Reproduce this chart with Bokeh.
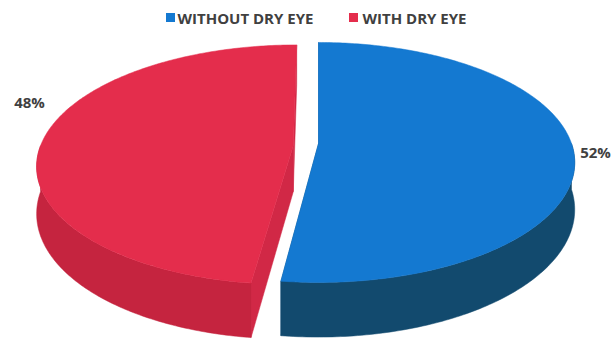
import numpy as np
from bokeh.plotting import figure
from bokeh.models import Range1d
from bokeh.core.properties import value
from bokeh.embed import file_html
from bokeh.resources import INLINE

# ---- data ----
categories = ["WITHOUT DRY EYE", "WITH DRY EYE"]
values = [52, 48]
pct_labels = ["52%", "48%"]
top_colors = ["#1479D1", "#E42D4C"]
side_colors = ["#124A6E", "#C5243F"]
cut_colors = ["#11527D", "#D12846"]
explode = [0.0, 0.10]

# ---- 3D pie geometry (screen pixels, y downward) ----
CX, CY = 318.0, 143.0   # projected pie centre on top face
RX, RY = 253.0, 117.0   # radii
K = 0.158               # perspective strength
D0 = 46.0               # depth of the pie
SLICE_DY = [0.0, 3.0]   # small vertical nudge of exploded slice


def project(u, v, depth=0.0):
    s = 1.0 / (1.0 + K * v)
    return CX + RX * u * s, CY - RY * v * s + depth * D0 * s


p = figure(width=612, height=340, output_backend="svg", toolbar_location=None,
           x_range=Range1d(0, 612), y_range=Range1d(340, 0),
           min_border=0, min_border_left=0, min_border_right=0,
           min_border_top=0, min_border_bottom=0)
p.axis.visible = False
p.grid.visible = False
p.outline_line_color = None
p.background_fill_color = "white"
p.border_fill_color = "white"

total = float(sum(values))
starts, ends = [], []
acc = 0.0
for v in values:
    starts.append(acc / total * 360.0)
    acc += v
    ends.append(acc / total * 360.0)

cut_xs, cut_ys, cut_c = [], [], []
side_xs, side_ys, side_c = [], [], []
top_xs, top_ys, top_c = [], [], []

for i in range(len(values)):
    t0, t1 = starts[i], ends[i]
    mid = np.radians((t0 + t1) / 2.0)
    ou, ov = explode[i] * np.sin(mid), explode[i] * np.cos(mid)
    dy = SLICE_DY[i]

    # radial cut faces
    for t in (t0, t1):
        tr = np.radians(t)
        ru, rv = ou + np.sin(tr), ov + np.cos(tr)
        pts = [project(ou, ov, 0), project(ru, rv, 0), project(ru, rv, 1), project(ou, ov, 1)]
        cut_xs.append([q[0] for q in pts]); cut_ys.append([q[1] + dy for q in pts]); cut_c.append(cut_colors[i])

    # outer side (front visible part)
    a0, a1 = max(t0, 90.0), min(t1, 270.0)
    if a1 > a0:
        th = np.radians(np.linspace(a0, a1, 120))
        u = ou + np.sin(th); v = ov + np.cos(th)
        xt, yt = project(u, v, 0)
        xb, yb = project(u, v, 1)
        side_xs.append(list(xt) + list(xb[::-1]))
        side_ys.append(list(yt + dy) + list(yb[::-1] + dy))
        side_c.append(side_colors[i])

    # top face
    th = np.radians(np.linspace(t0, t1, 240))
    u = ou + np.sin(th); v = ov + np.cos(th)
    xt, yt = project(u, v, 0)
    cx0, cy0 = project(ou, ov, 0)
    top_xs.append([cx0] + list(xt)); top_ys.append([cy0 + dy] + list(yt + dy)); top_c.append(top_colors[i])

p.patches(cut_xs, cut_ys, fill_color=cut_c, line_color=cut_c, line_width=0.5)
p.patches(side_xs, side_ys, fill_color=side_c, line_color=side_c, line_width=0.5)
p.patches(top_xs, top_ys, fill_color=top_c, line_color=top_c, line_width=0.5)

# percentage labels
label_pos = [(595, 151), (29, 101)]
for i, lab in enumerate(pct_labels):
    p.text(x=[label_pos[i][0]], y=[label_pos[i][1]], text=[lab],
           text_font=value("Open Sans"), text_font_style="bold", text_font_size="15px",
           text_color="#404040", text_align="center", text_baseline="middle")

# legend
legend_pos = [(170, 177), (353, 362)]
for i, cat in enumerate(categories):
    sx, tx = legend_pos[i]
    p.rect(x=[sx], y=[17], width=9, height=9, fill_color=top_colors[i], line_color=None)
    p.text(x=[tx], y=[17], text=[cat], text_font=value("Open Sans"), text_font_style="bold",
           text_font_size="15px", text_color="#404040", text_align="left", text_baseline="middle")

open("out.html", "w").write(file_html(p, INLINE))
